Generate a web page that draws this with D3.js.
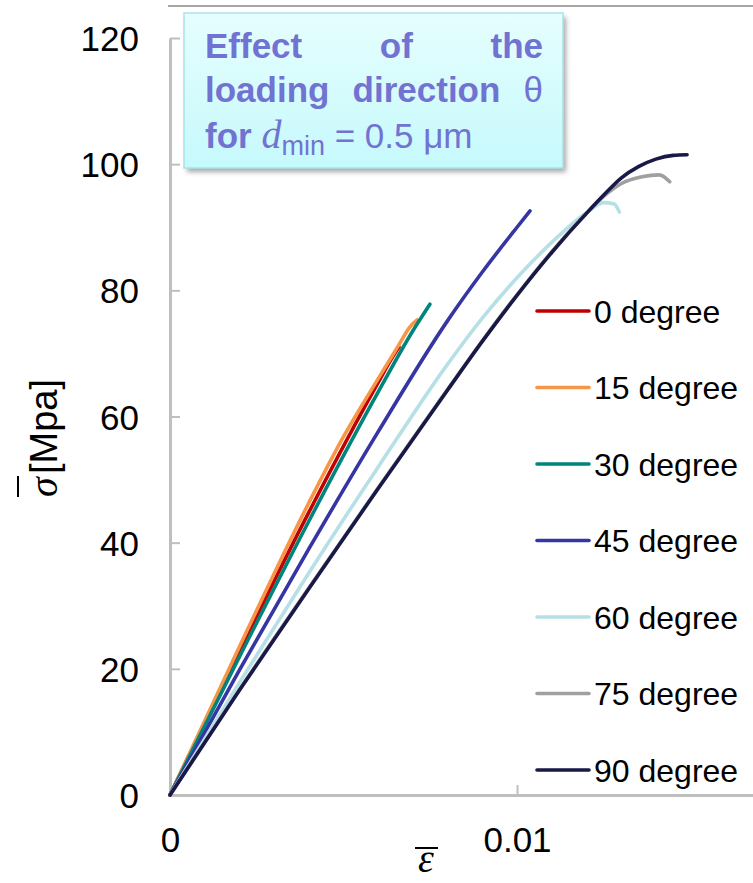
<!DOCTYPE html>
<html>
<head>
<meta charset="utf-8">
<script src="https://cdn.jsdelivr.net/npm/d3@7"></script>
<style>
  html, body { margin: 0; padding: 0; background: #ffffff; }
  svg { display: block; }
</style>
</head>
<body>
<svg id="chart" width="753" height="883"></svg>
<script>
// Stress-strain curves, [strain, stress in MPa], one list per loading direction
const deg0  = [[0,0],[0.002,22.8],[0.004,44.8],[0.006,65.4],[0.0064,69.3],[0.0066,71.0]];
const deg15 = [[0,0],[0.002,23.5],[0.004,46.3],[0.005,56.8],[0.006,66.0],[0.0066,71.4],[0.0069,74.1],[0.00712,75.3]];
const deg30 = [[0,0],[0.002,21.9],[0.004,43.4],[0.006,63.9],[0.007,73.6],[0.00749,77.8]];
const deg45 = [[0,0],[0.002,19.8],[0.004,39.0],[0.006,57.6],[0.008,75.2],[0.009,82.9],[0.010,90.0],[0.010375,92.6]];
const deg60 = [[0,0],[0.002,17.8],[0.004,35.2],[0.006,52.0],[0.008,68.3],[0.009,75.6],[0.010,82.0],[0.011,87.6],[0.012,92.3],[0.0125,93.9],[0.0128,93.7],[0.01295,92.4]];
const deg75 = [[0,0],[0.002,16.7],[0.004,32.8],[0.006,48.7],[0.008,64.3],[0.009,72.0],[0.010,79.3],[0.011,86.1],[0.012,92.2],[0.0125,94.9],[0.013,96.9],[0.0136,98.0],[0.0141,98.3],[0.0144,97.2]];
const deg90 = [[0,0],[0.002,16.6],[0.004,32.7],[0.006,48.6],[0.008,64.2],[0.009,71.9],[0.010,79.2],[0.011,86.0],[0.012,92.2],[0.0125,95.1],[0.013,97.8],[0.0135,99.6],[0.014,100.8],[0.0145,101.4],[0.0149,101.5]];

const seriesNames  = ["0 degree","15 degree","30 degree","45 degree","60 degree","75 degree","90 degree"];
const seriesData   = [deg0, deg15, deg30, deg45, deg60, deg75, deg90];
const seriesColors = ["#c00000","#f79646","#00857d","#3535a3","#b7e0e6","#a0a0a0","#191947"];

const yTicks = [0, 20, 40, 60, 80, 100, 120];
const xTicks = [0, 0.01];
const xTickLabels = ["0", "0.01"];

const svg = d3.select("#chart");
const sans = "'Liberation Sans', Arial, sans-serif";
const serif = "'Liberation Serif', 'Times New Roman', serif";

const x = d3.scaleLinear().domain([0, 0.0168]).range([170, 753]);
const y = d3.scaleLinear().domain([0, 120]).range([795, 38]);

// frame line along the top of the plot area
svg.append("line")
  .attr("x1", 168).attr("x2", 753).attr("y1", 6).attr("y2", 6)
  .attr("stroke", "#a6a6a6").attr("stroke-width", 2);

// axes
const yAxis = d3.axisLeft(y).tickValues(yTicks).tickFormat(d3.format("d"))
  .tickSizeInner(-10).tickSizeOuter(0).tickPadding(31);
const gy = svg.append("g").attr("transform", "translate(170,0)").call(yAxis);

const xAxis = d3.axisBottom(x).tickValues(xTicks).tickFormat((d, i) => xTickLabels[i])
  .tickSizeInner(-10).tickSizeOuter(0).tickPadding(32);
const gx = svg.append("g").attr("transform", "translate(0,795)").call(xAxis);

[gy, gx].forEach(g => {
  g.select(".domain").attr("stroke", "#bfbfbf").attr("stroke-width", 3);
  g.selectAll(".tick line").attr("stroke", "#bfbfbf").attr("stroke-width", 2);
  g.selectAll(".tick text").attr("fill", "#000").attr("font-family", sans).attr("font-size", 35);
});
gy.selectAll(".tick text").attr("dy", "0.36em");
gx.selectAll(".tick text").attr("dy", "0.71em");

// curves
const line = d3.line().x(d => x(d[0])).y(d => y(d[1])).curve(d3.curveMonotoneX);
svg.append("g").selectAll("path").data(seriesData).join("path")
  .attr("d", line)
  .attr("fill", "none")
  .attr("stroke", (d, i) => seriesColors[i])
  .attr("stroke-width", 3.6)
  .attr("stroke-linecap", "round")
  .attr("stroke-linejoin", "round");

// legend
const legend = svg.append("g");
const legendY = d3.scalePoint().domain(seriesNames).range([311, 770]);
seriesNames.forEach((name, i) => {
  const ly = legendY(name);
  legend.append("line")
    .attr("x1", 537).attr("x2", 589).attr("y1", ly).attr("y2", ly)
    .attr("stroke", seriesColors[i]).attr("stroke-width", 3.6).attr("stroke-linecap", "round");
  legend.append("text")
    .attr("x", 594).attr("y", ly).attr("dy", "0.36em")
    .attr("font-family", sans).attr("font-size", 32).attr("fill", "#000")
    .text(name);
});

// axis titles
const yTitleSigma = svg.append("text")
  .attr("transform", "translate(57,497) rotate(-90)")
  .attr("font-family", serif).attr("font-style", "italic").attr("font-size", 40)
  .text("σ");
const sb = yTitleSigma.node().getBBox();
svg.append("line")
  .attr("x1", 18).attr("x2", 18).attr("y1", 497).attr("y2", 497 - sb.width)
  .attr("stroke", "#000").attr("stroke-width", 2);
svg.append("text")
  .attr("transform", `translate(57,${497 - sb.width - 2}) rotate(-90)`)
  .attr("font-family", sans).attr("font-size", 38)
  .text("[Mpa]");

svg.append("text")
  .attr("x", 426).attr("y", 872).attr("text-anchor", "middle")
  .attr("font-family", serif).attr("font-style", "italic").attr("font-size", 40)
  .text("ε");
svg.append("line")
  .attr("x1", 415).attr("x2", 438).attr("y1", 848).attr("y2", 848)
  .attr("stroke", "#000").attr("stroke-width", 2);

// annotation box
const defs = svg.append("defs");
const grad = defs.append("linearGradient").attr("id", "boxFill")
  .attr("x1", 0).attr("y1", 0).attr("x2", 0).attr("y2", 1);
grad.append("stop").attr("offset", 0).attr("stop-color", "#e6fefe");
grad.append("stop").attr("offset", 1).attr("stop-color", "#c6f9fc");
const shadow = defs.append("filter").attr("id", "boxShadow")
  .attr("x", -0.1).attr("y", -0.1).attr("width", 1.2).attr("height", 1.3);
shadow.append("feGaussianBlur").attr("stdDeviation", 2.5);

const box = { x: 184, y: 13, w: 379, h: 155 };
svg.append("rect")
  .attr("x", box.x + 3).attr("y", box.y + 4).attr("width", box.w).attr("height", box.h)
  .attr("fill", "#8a8a8a").attr("opacity", 0.75).attr("filter", "url(#boxShadow)");
svg.append("rect")
  .attr("x", box.x).attr("y", box.y).attr("width", box.w).attr("height", box.h)
  .attr("fill", "url(#boxFill)").attr("stroke", "#a9e3e6").attr("stroke-width", 1.5);

const titleColor = "#7272d2";
const tLeft = 205, tRight = 543, tSize = 35;

// spread words of a line across the text width
function justified(words, baseline, styles) {
  const nodes = words.map((w, i) => {
    const t = svg.append("text").attr("y", baseline)
      .attr("font-family", sans).attr("font-size", tSize).attr("fill", titleColor)
      .attr("font-weight", styles && styles[i] === "normal" ? "normal" : "bold")
      .text(w);
    return t;
  });
  const widths = nodes.map(n => n.node().getComputedTextLength());
  const total = d3.sum(widths);
  const gap = (tRight - tLeft - total) / (words.length - 1);
  let cx = tLeft;
  nodes.forEach((n, i) => { n.attr("x", cx); cx += widths[i] + gap; });
}
justified(["Effect", "of", "the"], 58);
justified(["loading", "direction", "θ"], 102, ["bold", "bold", "normal"]);

const l3 = svg.append("text").attr("x", tLeft).attr("y", 148)
  .attr("font-family", sans).attr("font-size", tSize).attr("fill", titleColor);
l3.append("tspan").attr("font-weight", "bold").text("for ");
l3.append("tspan").attr("font-family", serif).attr("font-style", "italic").attr("font-size", 40).text("d");
l3.append("tspan").attr("font-size", 27).attr("dy", 7).text("min");
l3.append("tspan").attr("dy", -7).text(" = 0.5 μm");
</script>
</body>
</html>
